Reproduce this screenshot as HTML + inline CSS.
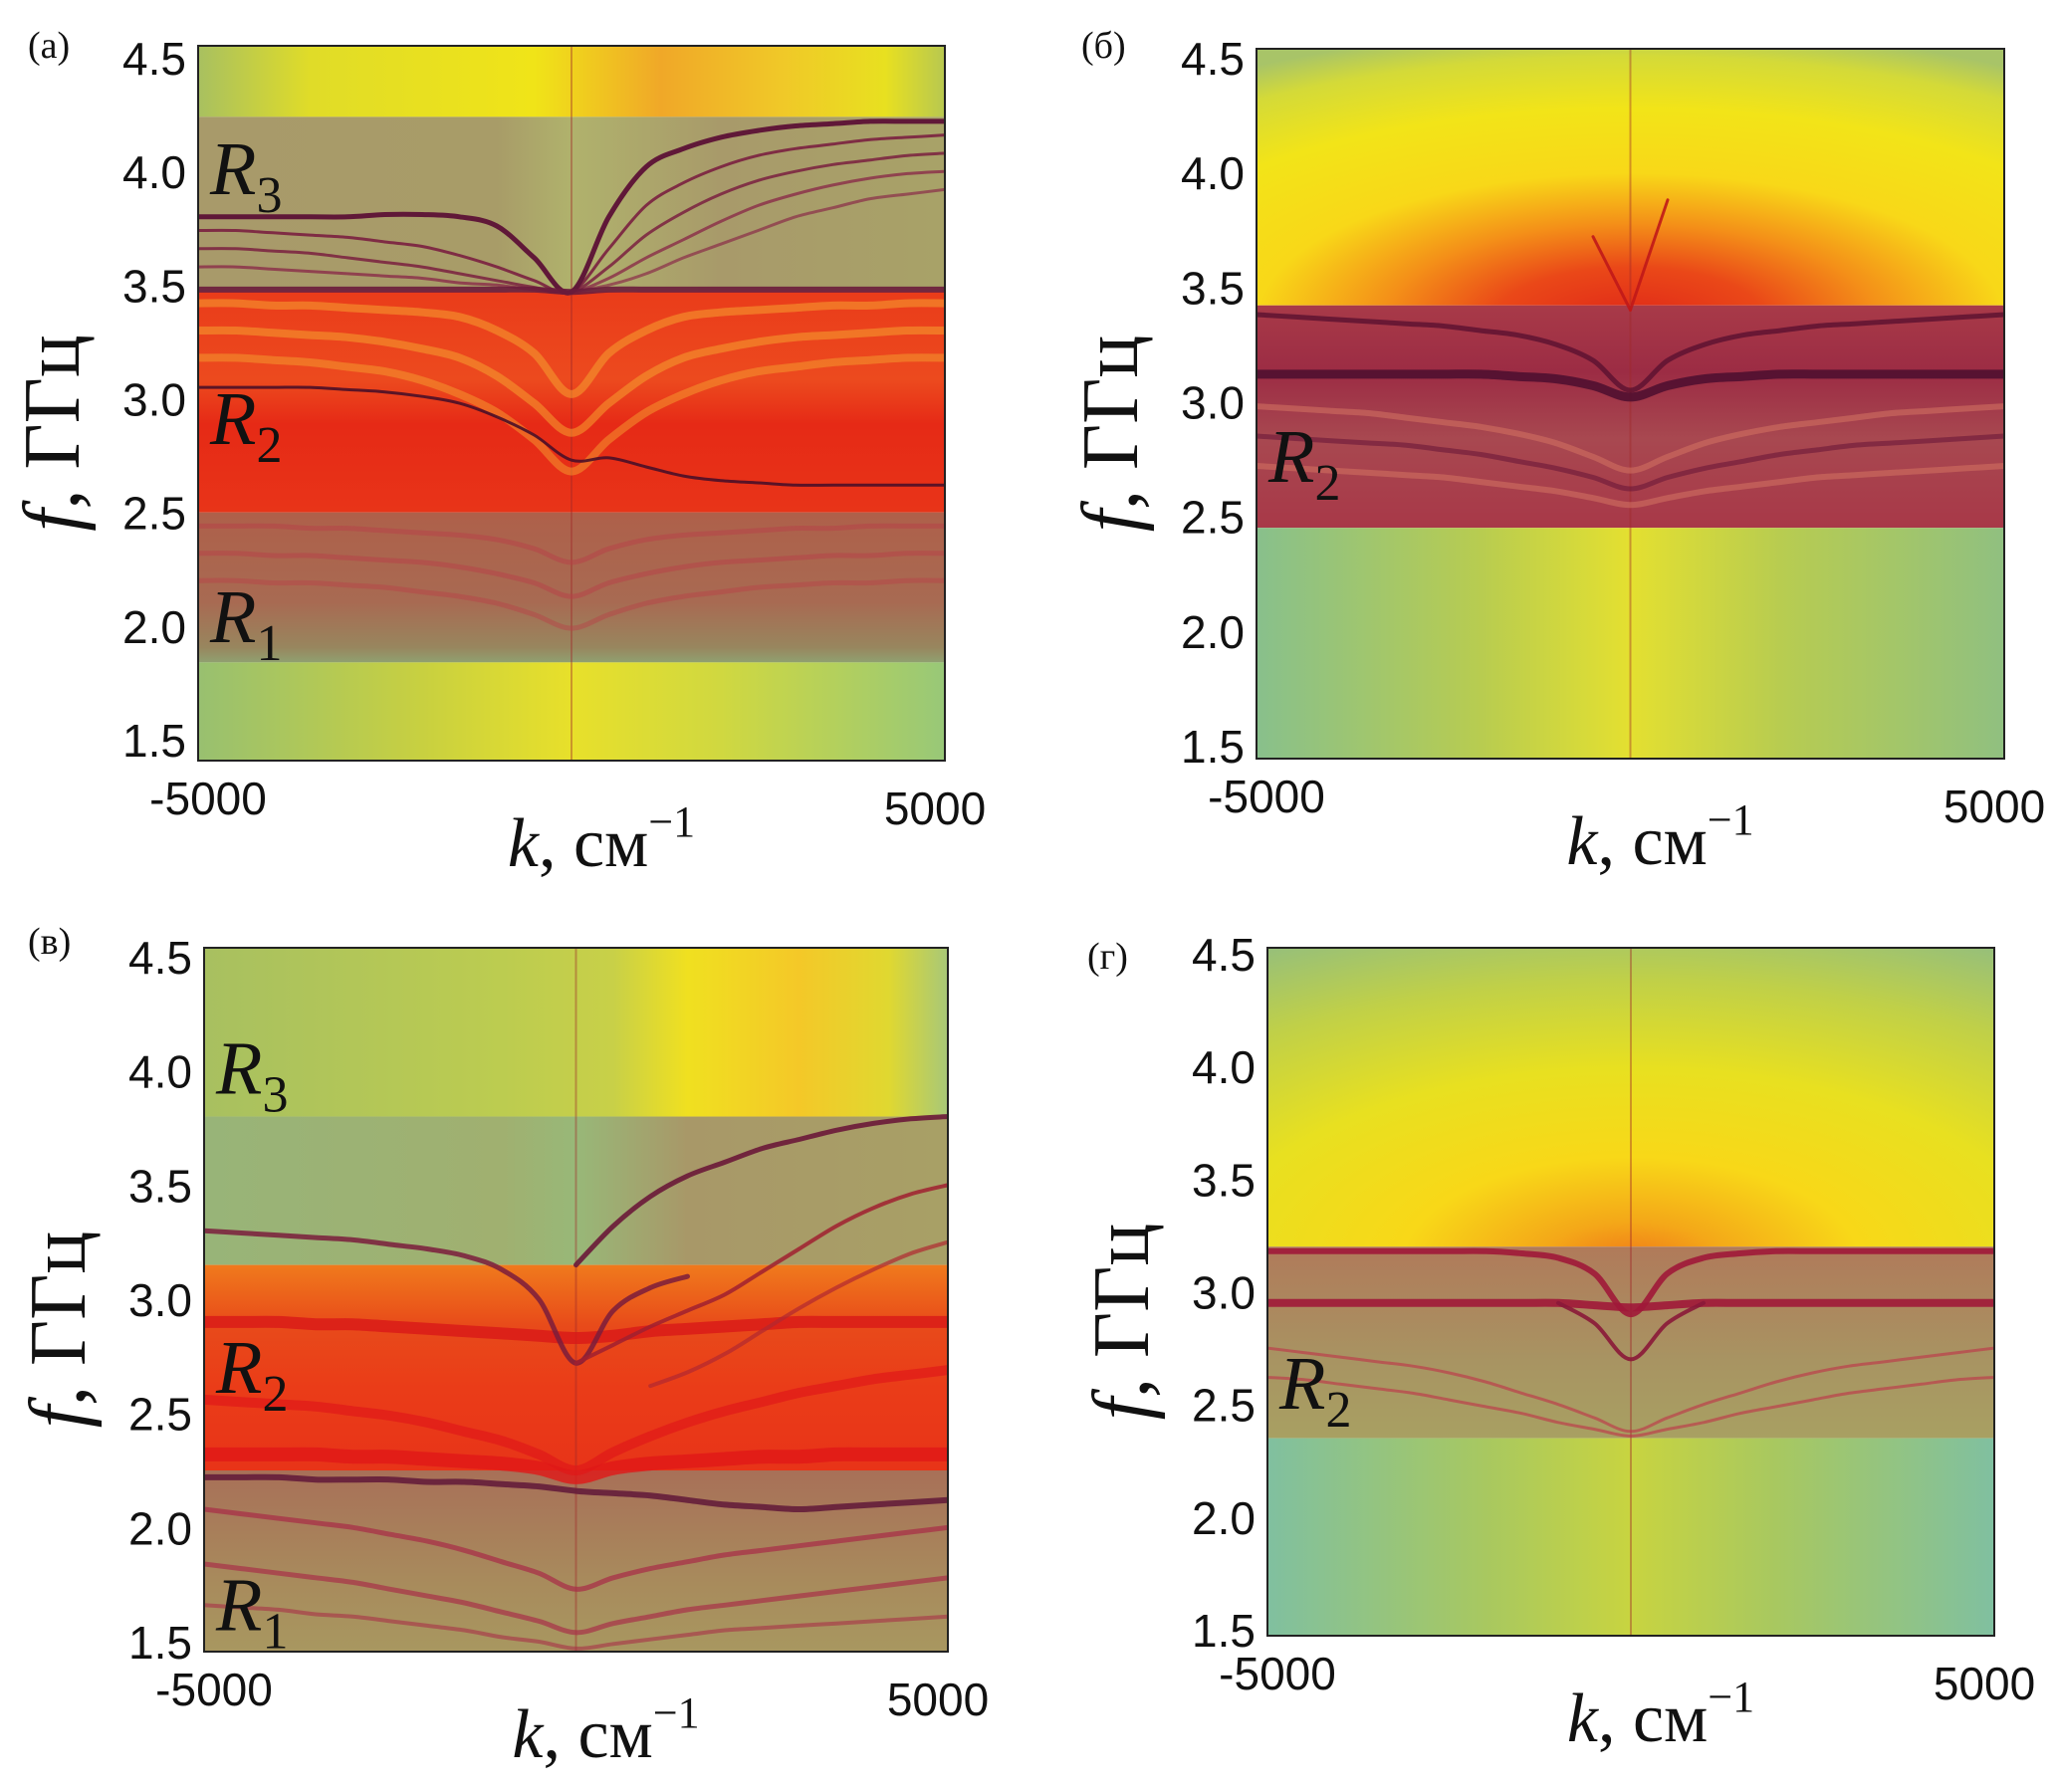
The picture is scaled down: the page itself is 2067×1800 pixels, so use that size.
<!DOCTYPE html>
<html><head><meta charset="utf-8"><title>Dispersion maps</title>
<style>
html,body{margin:0;padding:0;background:#fff;}
svg{display:block;}
.tick{font-family:"Liberation Sans",Arial,sans-serif;font-size:46px;fill:#111;}
.ser{font-family:"Liberation Serif","Noto Serif CJK SC",serif;fill:#111;}
</style></head>
<body>
<svg id="fig" width="2067" height="1800" viewBox="0 0 2067 1800" xmlns="http://www.w3.org/2000/svg">
<defs>
<linearGradient id="a0" x1="0" y1="0" x2="1" y2="0"><stop offset="0" stop-color="#a8c060"/><stop offset=".15" stop-color="#e0dc28"/><stop offset=".45" stop-color="#f0e418"/><stop offset=".62" stop-color="#f0a828"/><stop offset=".78" stop-color="#f0c828"/><stop offset=".92" stop-color="#e8e020"/><stop offset="1" stop-color="#b8c850"/></linearGradient>
<linearGradient id="a1" x1="0" y1="0" x2="1" y2="0"><stop offset="0" stop-color="#a89a6a"/><stop offset=".4" stop-color="#a89c68"/><stop offset=".5" stop-color="#b0b26c"/><stop offset=".7" stop-color="#a89a6a"/><stop offset="1" stop-color="#a8a268"/></linearGradient>
<linearGradient id="a2" x1="0" y1="0" x2="0" y2="1"><stop offset="0" stop-color="#ea3c1a"/><stop offset=".4" stop-color="#ec4a1e"/><stop offset=".6" stop-color="#e62a16"/><stop offset="1" stop-color="#e83418"/></linearGradient>
<linearGradient id="a3" x1="0" y1="0" x2="0" y2="1"><stop offset="0" stop-color="#ae604a"/><stop offset=".6" stop-color="#a86a52"/><stop offset=".9" stop-color="#98865e"/><stop offset="1" stop-color="#90a070"/></linearGradient>
<linearGradient id="a4" x1="0" y1="0" x2="1" y2="0"><stop offset="0" stop-color="#98c070"/><stop offset=".3" stop-color="#c8d040"/><stop offset=".5" stop-color="#e8e02a"/><stop offset=".7" stop-color="#d0d840"/><stop offset="1" stop-color="#98c878"/></linearGradient>
<radialGradient id="b0" cx=".5" cy="1.05" r="1.0"><stop offset="0" stop-color="#e02818"/><stop offset=".18" stop-color="#ea4818"/><stop offset=".33" stop-color="#f49018"/><stop offset=".5" stop-color="#f8d818"/><stop offset=".72" stop-color="#f2e418"/><stop offset=".9" stop-color="#d4da38"/><stop offset="1" stop-color="#a8c468"/></radialGradient>
<linearGradient id="b1" x1="0" y1="0" x2="0" y2="1"><stop offset="0" stop-color="#a83a48"/><stop offset=".3" stop-color="#9c2c44"/><stop offset=".6" stop-color="#a84850"/><stop offset="1" stop-color="#a83848"/></linearGradient>
<linearGradient id="b2" x1="0" y1="0" x2="1" y2="0"><stop offset="0" stop-color="#88c08c"/><stop offset=".3" stop-color="#b8cc50"/><stop offset=".5" stop-color="#e4e030"/><stop offset=".7" stop-color="#b8cc50"/><stop offset="1" stop-color="#90c080"/></linearGradient>
<linearGradient id="c0" x1="0" y1="0" x2="1" y2="0"><stop offset="0" stop-color="#a8c060"/><stop offset=".4" stop-color="#bccc50"/><stop offset=".55" stop-color="#c8d048"/><stop offset=".65" stop-color="#f0e020"/><stop offset=".8" stop-color="#f4c828"/><stop offset=".92" stop-color="#e0d830"/><stop offset="1" stop-color="#a8c878"/></linearGradient>
<linearGradient id="c1" x1="0" y1="0" x2="1" y2="0"><stop offset="0" stop-color="#98b478"/><stop offset=".4" stop-color="#a0b070"/><stop offset=".5" stop-color="#98b878"/><stop offset=".65" stop-color="#a89868"/><stop offset="1" stop-color="#a8a066"/></linearGradient>
<linearGradient id="c2" x1="0" y1="0" x2="0" y2="1"><stop offset="0" stop-color="#f07a1c"/><stop offset=".3" stop-color="#e84a1a"/><stop offset=".6" stop-color="#ea3c18"/><stop offset="1" stop-color="#e83418"/></linearGradient>
<linearGradient id="c3" x1="0" y1="0" x2="0" y2="1"><stop offset="0" stop-color="#a87058"/><stop offset=".5" stop-color="#a88a5c"/><stop offset=".85" stop-color="#a89860"/><stop offset="1" stop-color="#90a870"/></linearGradient>
<radialGradient id="d0" cx=".5" cy="1.05" r="1.05"><stop offset="0" stop-color="#f07818"/><stop offset=".12" stop-color="#f4a818"/><stop offset=".3" stop-color="#f8d818"/><stop offset=".55" stop-color="#e8e020"/><stop offset=".8" stop-color="#c0d048"/><stop offset="1" stop-color="#98c078"/></radialGradient>
<linearGradient id="d1" x1="0" y1="0" x2="0" y2="1"><stop offset="0" stop-color="#b07a5a"/><stop offset=".6" stop-color="#a89462"/><stop offset="1" stop-color="#a8a062"/></linearGradient>
<linearGradient id="d2" x1="0" y1="0" x2="1" y2="0"><stop offset="0" stop-color="#80c0a0"/><stop offset=".3" stop-color="#a8c860"/><stop offset=".5" stop-color="#c8d440"/><stop offset=".7" stop-color="#a8c860"/><stop offset="1" stop-color="#80c0a0"/></linearGradient>
</defs>
</svg>
<script>
// ---- data ----
const K = [-5000,-4500,-4000,-3500,-3000,-2500,-2000,-1500,-1000,-500,0,500,1000,1500,2000,2500,3000,3500,4000,4500,5000];
const yTicks = [1.5,2.0,2.5,3.0,3.5,4.0,4.5];
const xTicks = [-5000,5000];
const _ = null;
// panel a
const aBands = [4.7,4.24,3.47,2.5,1.84,1.3];
const aTop  = [3.80,3.80,3.80,3.80,3.80,3.81,3.81,3.80,3.76,3.62,3.47,3.80,4.02,4.10,4.15,4.18,4.20,4.21,4.22,4.22,4.22];
const aFan1 = [3.74,3.74,3.73,3.72,3.71,3.69,3.67,3.63,3.58,3.52,3.47,3.66,3.85,3.95,4.02,4.07,4.10,4.12,4.14,4.15,4.16];
const aFan2 = [3.66,3.66,3.65,3.64,3.62,3.60,3.58,3.55,3.52,3.49,3.47,3.58,3.72,3.82,3.90,3.96,4.00,4.03,4.05,4.07,4.08];
const aFan3 = [3.58,3.58,3.57,3.56,3.55,3.54,3.53,3.51,3.50,3.48,3.47,3.53,3.62,3.70,3.78,3.85,3.90,3.94,3.97,3.99,4.00];
const aFan4 = [_,_,_,_,_,_,_,_,_,_,3.47,3.50,3.55,3.62,3.68,3.74,3.80,3.84,3.88,3.90,3.92];
const aBase = [3.48,3.48,3.48,3.48,3.48,3.48,3.48,3.48,3.48,3.48,3.47,3.48,3.48,3.48,3.48,3.48,3.48,3.48,3.48,3.48,3.48];
const aR2   = [3.05,3.05,3.05,3.05,3.04,3.03,3.01,2.98,2.92,2.84,2.73,2.74,2.70,2.66,2.64,2.63,2.62,2.62,2.62,2.62,2.62];
const aOr1  = [3.42,3.42,3.41,3.41,3.40,3.39,3.38,3.36,3.30,3.20,3.02,3.20,3.30,3.36,3.38,3.39,3.40,3.41,3.41,3.42,3.42];
const aOr2  = [3.30,3.30,3.29,3.28,3.27,3.25,3.22,3.18,3.10,2.98,2.85,2.98,3.10,3.18,3.22,3.25,3.27,3.28,3.29,3.30,3.30];
const aOr3  = [3.18,3.18,3.17,3.16,3.14,3.12,3.08,3.02,2.94,2.82,2.68,2.82,2.94,3.02,3.08,3.12,3.14,3.16,3.17,3.18,3.18];
const aLow1 = [2.44,2.44,2.44,2.43,2.43,2.42,2.41,2.40,2.38,2.34,2.28,2.34,2.38,2.40,2.41,2.42,2.43,2.43,2.44,2.44,2.44];
const aLow2 = [2.32,2.32,2.31,2.31,2.30,2.29,2.28,2.26,2.23,2.19,2.13,2.19,2.23,2.26,2.28,2.29,2.30,2.31,2.31,2.32,2.32];
const aLow3 = [2.20,2.20,2.19,2.19,2.18,2.17,2.15,2.13,2.10,2.05,1.99,2.05,2.10,2.13,2.15,2.17,2.18,2.19,2.19,2.20,2.20];
// panel б
const bBands = [4.7,3.42,2.45,1.3];
const bFlat = [3.12,3.12,3.12,3.12,3.12,3.12,3.12,3.11,3.10,3.07,3.02,3.07,3.10,3.11,3.12,3.12,3.12,3.12,3.12,3.12,3.12];
const bUp1  = [3.38,3.37,3.36,3.35,3.34,3.33,3.31,3.29,3.25,3.18,3.05,3.18,3.25,3.29,3.31,3.33,3.34,3.35,3.36,3.37,3.38];
const bL1   = [2.98,2.97,2.96,2.95,2.93,2.91,2.89,2.86,2.82,2.76,2.70,2.76,2.82,2.86,2.89,2.91,2.93,2.95,2.96,2.97,2.98];
const bL2   = [2.85,2.84,2.83,2.82,2.81,2.79,2.77,2.74,2.71,2.67,2.62,2.67,2.71,2.74,2.77,2.79,2.81,2.82,2.83,2.84,2.85];
const bL3   = [2.72,2.71,2.70,2.69,2.68,2.67,2.65,2.63,2.61,2.58,2.55,2.58,2.61,2.63,2.65,2.67,2.68,2.69,2.70,2.71,2.72];
const bHornL = [_,_,_,_,_,_,_,_,_,3.72,3.40,_,_,_,_,_,_,_,_,_,_];
const bHornR = [_,_,_,_,_,_,_,_,_,_,3.40,3.88,_,_,_,_,_,_,_,_,_];
// panel в
const cBands = [4.7,3.8,3.15,2.25,1.3];
const cTopR  = [_,_,_,_,_,_,_,_,_,_,3.15,3.32,3.45,3.54,3.60,3.66,3.70,3.74,3.77,3.79,3.80];
const cLeft  = [3.30,3.29,3.28,3.27,3.26,3.24,3.22,3.19,3.13,3.00,2.72,2.95,3.05,3.10,_,_,_,_,_,_,_];
const cRise  = [_,_,_,_,_,_,_,_,_,_,2.72,2.80,2.88,2.95,3.02,3.12,3.22,3.32,3.40,3.46,3.50];
const cRise2 = [_,_,_,_,_,_,_,_,_,_,_,_,2.62,2.68,2.76,2.86,2.96,3.05,3.13,3.20,3.25];
const cFlat  = [2.90,2.90,2.90,2.89,2.89,2.88,2.87,2.86,2.85,2.84,2.83,2.84,2.86,2.87,2.88,2.89,2.90,2.90,2.90,2.90,2.90];
const cRedLow= [2.32,2.32,2.32,2.32,2.31,2.31,2.30,2.29,2.28,2.26,2.22,2.26,2.28,2.29,2.30,2.31,2.31,2.32,2.32,2.32,2.32];
const cRed2  = [2.56,2.55,2.54,2.53,2.51,2.49,2.46,2.42,2.38,2.32,2.25,2.33,2.40,2.46,2.51,2.55,2.59,2.62,2.65,2.67,2.69];
const cDark  = [2.22,2.22,2.22,2.21,2.21,2.21,2.20,2.20,2.19,2.18,2.16,2.15,2.14,2.12,2.10,2.09,2.08,2.09,2.10,2.11,2.12];
const cV1    = [2.08,2.06,2.04,2.02,2.00,1.97,1.94,1.90,1.85,1.80,1.73,1.78,1.82,1.85,1.88,1.90,1.92,1.94,1.96,1.98,2.00];
const cV2    = [1.84,1.82,1.80,1.78,1.76,1.73,1.70,1.67,1.63,1.59,1.54,1.58,1.61,1.64,1.66,1.68,1.70,1.72,1.74,1.76,1.78];
const cV3    = [1.66,1.65,1.64,1.62,1.61,1.59,1.57,1.55,1.52,1.50,1.47,1.49,1.51,1.53,1.55,1.56,1.57,1.58,1.59,1.60,1.61];
// panel г
const dBands = [4.7,3.2,2.35,1.3];
const dTop  = [3.18,3.18,3.18,3.18,3.18,3.18,3.18,3.17,3.15,3.08,2.90,3.08,3.15,3.17,3.18,3.18,3.18,3.18,3.18,3.18,3.18];
const dFlat = [2.95,2.95,2.95,2.95,2.95,2.95,2.95,2.95,2.95,2.94,2.93,2.94,2.95,2.95,2.95,2.95,2.95,2.95,2.95,2.95,2.95];
const dV    = [_,_,_,_,_,_,_,_,2.95,2.86,2.70,2.86,2.95,_,_,_,_,_,_,_,_];
const dL1   = [2.75,2.73,2.71,2.69,2.67,2.64,2.60,2.55,2.50,2.44,2.38,2.44,2.50,2.55,2.60,2.64,2.67,2.69,2.71,2.73,2.75];
const dL2   = [2.62,2.61,2.59,2.57,2.55,2.52,2.49,2.46,2.42,2.39,2.36,2.39,2.42,2.46,2.49,2.52,2.55,2.57,2.59,2.61,2.62];

// ---- styles / layout ----
const NS = 'http://www.w3.org/2000/svg';
const svg = document.getElementById('fig');
const PANELS = [
 {key:'a', label:'(а)', box:{l:199,t:46,r:949,b:764}, y45:58, y15:743, lab:[28,58], bands:aBands,
  fills:['url(#a0)','url(#a1)','url(#a2)','url(#a3)','url(#a4)'],
  curves:[[aOr1,'#f6a030',8,.55],[aOr2,'#f6a030',8,.55],[aOr3,'#f6a030',8,.5],
          [aLow1,'#b84048',5,.5],[aLow2,'#b84048',5,.5],[aLow3,'#b84048',5,.45],
          [aFan4,'#8a2c48',3,.7],[aFan3,'#8a2c48',3,.8],[aFan2,'#7a2040',3,.85],[aFan1,'#7a2040',3,.9],
          [aTop,'#601838',5,1],[aBase,'#6a1c3c',6,.9],[aR2,'#4a1028',3,.9]],
  R:[[3.9,'3'],[2.8,'2'],[1.93,'1']]},
 {key:'b', label:'(б)', box:{l:1262,t:49,r:2013,b:762}, y45:58, y15:749, lab:[1086,58], bands:bBands,
  fills:['url(#b0)','url(#b1)','url(#b2)'],
  curves:[[bL1,'#d07060',6,.6],[bL2,'#6a1838',5,.6],[bL3,'#d07060',6,.6],
          [bUp1,'#5a1030',5,.8],[bFlat,'#501030',9,.9],[bHornL,'#c01818',3,.9],[bHornR,'#c01818',3,.9]],
  R:[[2.65,'2']]},
 {key:'c', label:'(в)', box:{l:205,t:952,r:952,b:1659}, y45:961, y15:1649, lab:[28,958], bands:cBands,
  fills:['url(#c0)','url(#c1)','url(#c2)','url(#c3)'],
  curves:[[cRedLow,'#e01818',14,.8],[cRed2,'#e01818',10,.7],[cFlat,'#d81818',12,.8],
          [cTopR,'#6a1838',5,.9],[cLeft,'#7a1c3c',5,.85],[cRise,'#a02030',4,.85],[cRise2,'#b02830',4,.7],
          [cDark,'#601838',6,.85],[cV1,'#a83048',5,.75],[cV2,'#a83048',5,.7],[cV3,'#a83048',4,.6]],
  R:[[3.90,'3'],[2.59,'2'],[1.55,'1']]},
 {key:'d', label:'(г)', box:{l:1273,t:952,r:2003,b:1643}, y45:958, y15:1637, lab:[1092,973], bands:dBands,
  fills:['url(#d0)','url(#d1)','url(#d2)'],
  curves:[[dL1,'#c03048',3,.6],[dL2,'#c03048',3,.6],[dTop,'#a01838',6,.9],[dFlat,'#a01838',8,.9],[dV,'#8a1838',4,.9]],
  R:[[2.48,'2']]}
];

function el(tag, attrs, parent){
  const e = document.createElementNS(NS, tag);
  for (const k in attrs) e.setAttribute(k, attrs[k]);
  (parent||svg).appendChild(e);
  return e;
}
function smoothPath(pts){
  if (pts.length < 2) return '';
  let d = 'M' + pts[0][0].toFixed(1) + ',' + pts[0][1].toFixed(1);
  for (let i = 0; i < pts.length - 1; i++){
    const p0 = pts[Math.max(0,i-1)], p1 = pts[i], p2 = pts[i+1], p3 = pts[Math.min(pts.length-1,i+2)];
    const c1x = p1[0] + (p2[0]-p0[0])/6, c1y = p1[1] + (p2[1]-p0[1])/6;
    const c2x = p2[0] - (p3[0]-p1[0])/6, c2y = p2[1] - (p3[1]-p1[1])/6;
    d += ' C' + c1x.toFixed(1)+','+c1y.toFixed(1)+' '+c2x.toFixed(1)+','+c2y.toFixed(1)+' '+p2[0].toFixed(1)+','+p2[1].toFixed(1);
  }
  return d;
}

PANELS.forEach(P => {
  const B = P.box;
  const xs = k => B.l + (k + 5000) / 10000 * (B.r - B.l);
  const ys = f => P.y45 + (4.5 - f) * (P.y15 - P.y45) / 3;
  const g = el('g', {});
  
  
  const cp = el('clipPath', {id:'clip-' + P.key}, g);
  el('rect', {x:B.l, y:B.t, width:B.r-B.l, height:B.b-B.t}, cp);
  const plot = el('g', {'clip-path':'url(#clip-' + P.key + ')'}, g);
  
  
  for (let i = 0; i < P.bands.length - 1; i++){
    const y1 = ys(P.bands[i]), y2 = ys(P.bands[i+1]);
    const r = el('rect', {x:B.l, y:y1, width:B.r-B.l, height:y2-y1, fill:P.fills[i]}, plot);
    
    
  }
  const cl = el('line', {x1:xs(0), x2:xs(0), y1:B.t, y2:B.b, stroke:'#a02828', 'stroke-width':2, opacity:.4}, plot);
  
  
  P.curves.forEach((c, ci) => {
    const [arr, col, w, op] = c;
    let run = [];
    const runs = [];
    arr.forEach((f, i) => {
      if (f === null) { if (run.length) runs.push(run); run = []; }
      else run.push([xs(K[i]), ys(f)]);
    });
    if (run.length) runs.push(run);
    runs.forEach(rn => {
      const p = el('path', {d:smoothPath(rn), fill:'none', stroke:col, 'stroke-width':w, opacity:op, 'stroke-linecap':'round'}, plot);
      
      
    });
  });
  const fr = el('rect', {x:B.l, y:B.t, width:B.r-B.l, height:B.b-B.t, fill:'none', stroke:'#222', 'stroke-width':2}, g);
  
  
  yTicks.forEach(t => {
    const tx = el('text', {x:B.l - 12, y:ys(t) + 17, 'text-anchor':'end', class:'tick'}, g);
    tx.textContent = t.toFixed(1);
    
    
  });
  xTicks.forEach((t, i) => {
    const tx = el('text', {x:xs(t) + (i === 0 ? 10 : -10), y:B.b + (i === 0 ? 54 : 64), 'text-anchor':'middle', class:'tick'}, g);
    tx.textContent = String(t);
    
    
  });
  const xt = el('text', {x:(B.l+B.r)/2 + 30, y:B.b + 106, 'text-anchor':'middle', class:'ser', 'font-size':70}, g);
  
  
  xt.innerHTML = '<tspan font-style="italic">k</tspan>, см<tspan dy="-30" font-size="44">−1</tspan>';
  const cx = B.l - 120, cy = (B.t + B.b)/2 + 30;
  const yt = el('text', {x:cx, y:cy, 'text-anchor':'middle', class:'ser', 'font-size':80, transform:'rotate(-90 ' + cx + ' ' + cy + ')'}, g);
  
  
  yt.innerHTML = '<tspan font-style="italic">f</tspan>, ГГц';
  const pl = el('text', {x:P.lab[0], y:P.lab[1], class:'ser', 'font-size':38}, g);
  pl.textContent = P.label;
  
  
  P.R.forEach(r => {
    const t = el('text', {x:B.l + 12, y:ys(r[0]), class:'ser', 'font-size':76, 'font-style':'italic'}, g);
    
    
    t.innerHTML = 'R<tspan dy="18" font-size="52" font-style="normal">' + r[1] + '</tspan>';
  });
});
</script>
</body></html>
